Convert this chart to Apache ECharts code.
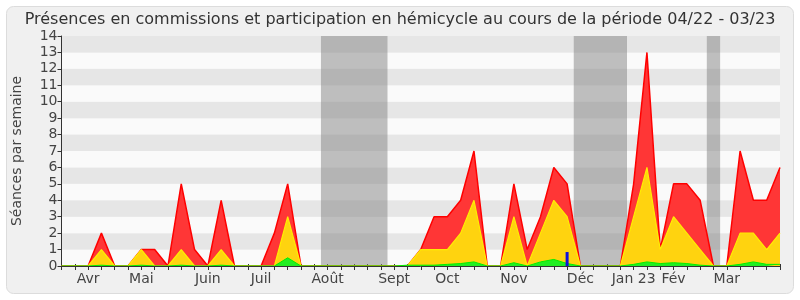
<!DOCTYPE html>
<html><head><meta charset="utf-8">
<script src="https://cdn.jsdelivr.net/npm/echarts@6/dist/echarts.min.js"></script>
<style>html,body{margin:0;padding:0;background:#fff}#c{width:800px;height:300px}</style>
</head><body><div id="c"></div>
<script>
const titleText = 'Présences en commissions et participation en hémicycle au cours de la période 04/22 - 03/23';
const yAxisName = 'Séances par semaine';
const weekCount = 55;
const monthNames = ['Avr','Mai','Juin','Juil','Août','Sept','Oct','Nov','Déc','Jan 23','Fév','Mar'];
const monthWeek  = [2,6,11,15,20,25,29,34,39,43,46,50];
const vacStart = [19.5, 38.5, 48.5];
const vacEnd   = [24.5, 42.5, 49.5];
const commissions = [0,0,0,2,0,0,1,1,0,5,1,0,4,0,0,0,2,5,0,
  0,0,0,0,0,0,0,0,1,3,3,4,7,0,0,5,1,3,6,5,0,0,0,0,5,13,1,5,5,4,0,0,7,4,4,6];
const hemicycle = [0,0,0,1,0,0,1,0,0,1,0,0,1,0,0,0,0,3,0,
  0,0,0,0,0,0,0,0,1,1,1,2,4,0,0,3,0,2,4,3,0,0,0,0,3,6,1,3,2,1,0,0,2,2,1,2];
const interventions = [0,0,0,0.05,0,0,0.05,0,0,0.05,0,0,0.05,0,0,0,0,0.5,0,
  0,0,0,0,0,0,0,0.05,0.05,0.05,0.1,0.15,0.25,0,0,0.2,0,0.25,0.4,0.15,0,0,0,0,0.1,0.25,0.15,0.2,0.15,0.05,0,0,0.1,0.25,0.1,0.1];
const questionsWeek = [38];
const questionsVal = [0.85];

const pairs = arr => arr.map((v,i)=>[i,v]);
const font = 'DejaVu Sans';
const chart = echarts.init(document.getElementById('c'), null, {renderer:'canvas'});
chart.setOption({
  animation:false,
  backgroundColor:'#ffffff',
  graphic:[{type:'rect', z:-10, shape:{x:6.5,y:6.5,width:787,height:287,r:7},
    style:{fill:'#f0f0f0', stroke:'#dcdcdc', lineWidth:1}}],
  title:{text:titleText, left:'center', top:7,
    textStyle:{fontFamily:font, fontSize:16, fontWeight:'normal', color:'#333'}},
  grid:{left:61.5, right:20, top:36, bottom:34, containLabel:false},
  xAxis:[{
    type:'value', min:0, max:weekCount-1, interval:1, z:10,
    axisLine:{show:true, onZero:false, lineStyle:{color:'#333', width:1}},
    axisTick:{show:true, length:4, lineStyle:{color:'#333'}},
    splitLine:{show:false},
    axisLabel:{show:true, margin:6, fontFamily:font, fontSize:14, color:'#444',
      showMinLabel:true, showMaxLabel:true,
      formatter: v => { const k = monthWeek.indexOf(Math.round(v)); return k>=0 ? monthNames[k] : ''; }}
  },{
    type:'value', position:'top', min:0, max:weekCount-1, interval:1,
    axisLine:{show:false}, axisTick:{show:true, length:2, lineStyle:{color:'#333'}},
    axisLabel:{show:false}, splitLine:{show:false}
  }],
  yAxis:{
    type:'value', min:0, max:14, interval:1,
    name:yAxisName, nameLocation:'middle', nameGap:37, nameRotate:90,
    nameTextStyle:{fontFamily:font, fontSize:14, color:'#444'},
    axisLine:{show:true, lineStyle:{color:'#333'}},
    axisTick:{show:true, length:4, lineStyle:{color:'#333'}},
    axisLabel:{fontFamily:font, fontSize:14, color:'#444', margin:4},
    splitLine:{show:false},
    splitArea:{show:true, areaStyle:{color:['#fafafa','#e6e6e6']}}
  },
  series:[
    {type:'line', data:[], z:1, silent:true,
      markArea:{silent:true, itemStyle:{color:'rgba(130,130,130,0.5)'},
        data: vacStart.map((s,k)=>[{xAxis:s},{xAxis:vacEnd[k]}])}},
    {name:'commissions', type:'line', data:pairs(commissions), symbol:'none', z:3,
      lineStyle:{color:'#ff0000', width:1.5}, areaStyle:{color:'#ff3636', opacity:1}},
    {name:'hemicycle', type:'line', data:pairs(hemicycle), symbol:'none', z:4,
      lineStyle:{color:'#ffee00', width:1.2}, areaStyle:{color:'#ffd30f', opacity:1}},
    {name:'interventions', type:'line', data:pairs(interventions), symbol:'none', z:5,
      lineStyle:{color:'#00ee00', width:1}, areaStyle:{color:'#22ee22', opacity:1}},
    {name:'questions', type:'bar', data:questionsWeek.map((w,k)=>[w,questionsVal[k]]),
      barWidth:3, z:6, itemStyle:{color:'#1010dd'}}
  ]
});
</script></body></html>
